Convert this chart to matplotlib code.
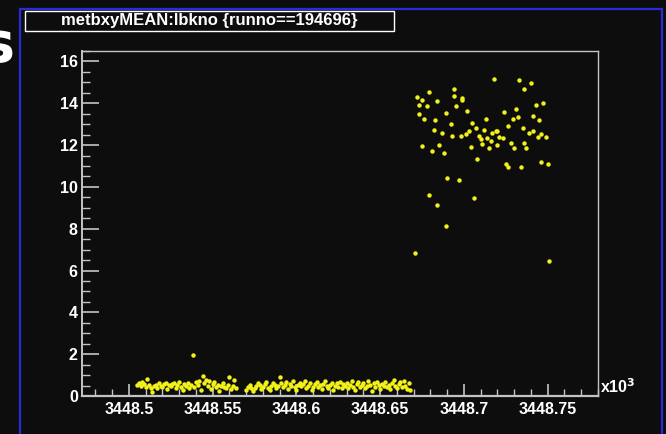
import matplotlib
matplotlib.use("Agg")
import matplotlib.pyplot as plt
from matplotlib.patches import Rectangle
from matplotlib.ticker import MultipleLocator, FuncFormatter

plt.rcParams["font.family"] = ["Liberation Sans", "DejaVu Sans"]
plt.rcParams["font.weight"] = "bold"

RUN = 194696
LB_BASE = 3448000

# low plateau, lumiblocks 505-564 and 570-668
lb_low = [
    505, 506, 507, 508, 509, 510, 511, 512, 513, 514, 515, 516, 517, 518, 519,
    520, 521, 522, 523, 524, 525, 526, 527, 528, 529, 530, 531, 532, 533, 534,
    535, 536, 537, 538, 539, 540, 541, 542, 543, 544, 545, 546, 547, 548, 549,
    550, 551, 552, 553, 554, 555, 556, 557, 558, 559, 560, 561, 562, 563, 564,
    570, 571, 572, 573, 574, 575, 576, 577, 578, 579, 580, 581, 582, 583, 584,
    585, 586, 587, 588, 589, 590, 591, 592, 593, 594, 595, 596, 597, 598, 599,
    600, 601, 602, 603, 604, 605, 606, 607, 608, 609, 610, 611, 612, 613, 614,
    615, 616, 617, 618, 619, 620, 621, 622, 623, 624, 625, 626, 627, 628, 629,
    630, 631, 632, 633, 634, 635, 636, 637, 638, 639, 640, 641, 642, 643, 644,
    645, 646, 647, 648, 649, 650, 651, 652, 653, 654, 655, 656, 657, 658, 659,
    660, 661, 662, 663, 664, 665, 666, 667, 668,
]
met_low = [
    0.55, 0.62, 0.48, 0.66, 0.58, 0.45, 0.80, 0.52, 0.40, 0.20,
    0.47, 0.55, 0.38, 0.60, 0.50, 0.42, 0.57, 0.64, 0.35, 0.51,
    0.46, 0.58, 0.62, 0.40, 0.53, 0.67, 0.44, 0.30, 0.56, 0.49,
    0.61, 0.37, 0.55, 1.97, 0.43, 0.66, 0.52, 0.72, 0.28, 0.95,
    0.62, 0.78, 0.48, 0.70, 0.35, 0.58, 0.65, 0.42, 0.55, 0.25,
    0.50, 0.60, 0.44, 0.38, 0.55, 0.89, 0.32, 0.48, 0.76, 0.36,
    0.30, 0.42, 0.55, 0.38, 0.25, 0.36, 0.48, 0.60, 0.52, 0.33,
    0.45, 0.58, 0.68, 0.40, 0.28, 0.50, 0.62, 0.55, 0.36, 0.47,
    0.90, 0.60, 0.42, 0.53, 0.65, 0.34, 0.57, 0.48, 0.70, 0.44,
    0.31, 0.54, 0.63, 0.46, 0.58, 0.72, 0.39, 0.50, 0.61, 0.27,
    0.45, 0.56, 0.67, 0.41, 0.52, 0.33, 0.59, 0.70, 0.47, 0.38,
    0.55, 0.64, 0.29, 0.50, 0.61, 0.43, 0.68, 0.36, 0.57, 0.49,
    0.62, 0.40, 0.53, 0.74, 0.45, 0.30, 0.58, 0.66, 0.42, 0.51,
    0.63, 0.37, 0.48, 0.71, 0.55, 0.26, 0.60, 0.44, 0.67, 0.52,
    0.35, 0.58, 0.46, 0.69, 0.41, 0.54, 0.32, 0.62, 0.75, 0.48,
    0.39, 0.57, 0.65, 0.43, 0.70, 0.50, 0.34, 0.61, 0.28,
]

# high plateau after the jump
lb_high = [
    672, 675, 679, 694, 694, 699, 699, 718, 733, 740, 736, 747, 743, 673, 678,
    684, 695, 673, 689, 702, 724, 731, 676, 683, 692, 705, 713, 729, 732, 741,
    745, 682, 687, 707, 712, 726, 735, 739, 741, 746, 744, 749, 693, 698, 701,
    703, 709, 710, 714, 717, 719, 720, 721, 723, 716, 711, 720, 728, 736, 675,
    685, 704, 715, 730, 737, 681, 688, 708, 725, 726, 734, 746, 750, 690, 697,
    679, 684, 706, 689, 671, 751,
]
met_high = [
    14.29, 14.17, 14.52, 14.69, 14.34, 14.25, 14.18, 15.14, 15.09, 14.96,
    14.69, 14.02, 13.91, 13.90, 13.85, 14.12, 13.85, 13.51, 13.55, 13.64,
    13.58, 13.72, 13.24, 13.20, 12.99, 13.07, 13.23, 13.24, 13.32, 13.37,
    13.20, 12.74, 12.59, 12.83, 12.74, 12.89, 12.80, 12.59, 12.67, 12.54,
    12.40, 12.37, 12.45, 12.45, 12.54, 12.67, 12.45, 12.30, 12.35, 12.58,
    12.67, 12.67, 12.38, 12.35, 12.18, 12.06, 12.00, 12.10, 12.10, 11.95,
    12.02, 11.92, 11.84, 11.84, 11.84, 11.72, 11.60, 11.32, 11.11, 10.94,
    10.95, 11.17, 11.08, 10.43, 10.33, 9.61, 9.14, 9.47, 8.13, 6.82,
    6.45,
]

BG = "#0d0d0d"
AXC = "#c4c4c4"
YEL = "#f2f21a"

fig = plt.figure(figsize=(6.66, 4.34), dpi=100, facecolor=BG)

# slide frame and stray slide text
fig.patches.append(Rectangle((20 / 666, -0.01), 642 / 666, 1 - 9 / 434 + 0.01,
                             transform=fig.transFigure, fill=False,
                             edgecolor="#2a2ad8", lw=1.6))
fig.text(14 / 666, 1 - 61 / 434, "s", color="white", fontsize=40,
         ha="right", va="baseline", family=["DejaVu Sans"])

# title pave
fig.patches.append(Rectangle((25 / 666, 1 - 31 / 434), 369 / 666, 20 / 434,
                             transform=fig.transFigure, facecolor=BG,
                             edgecolor="white", lw=1.0))
fig.text(209 / 666, 1 - 21 / 434, f"metbxyMEAN:lbkno {{runno=={RUN}}}",
         color="white", fontsize=12, ha="center", va="center")

ax = fig.add_axes([82 / 666, 38 / 434, 516 / 666, 345 / 434], facecolor=BG)

xl = [(LB_BASE + v) / 1000 for v in lb_low]
xh = [(LB_BASE + v) / 1000 for v in lb_high]
ax.plot(xl, met_low, ls="none", marker="o", ms=3.2, mew=0, color=YEL)
ax.plot(xh, met_high, ls="none", marker="o", ms=3.2, mew=0, color=YEL)

ax.set_xlim(3448.472, 3448.780)
ax.set_ylim(0, 16.5)

ax.xaxis.set_major_locator(MultipleLocator(0.05))
ax.xaxis.set_minor_locator(MultipleLocator(0.01))
ax.yaxis.set_major_locator(MultipleLocator(2))
ax.yaxis.set_minor_locator(MultipleLocator(0.5))
ax.xaxis.set_major_formatter(FuncFormatter(lambda v, p: f"{v:.2f}".rstrip("0")))
ax.yaxis.set_major_formatter(FuncFormatter(lambda v, p: f"{v:g}"))

for s in ax.spines.values():
    s.set_color(AXC)
    s.set_linewidth(1.0)
ax.spines["bottom"].set_linewidth(1.6)
ax.spines["left"].set_linewidth(1.4)

ax.tick_params(which="both", direction="in", color=AXC, top=False, right=False)
ax.tick_params(axis="y", which="major", length=12, width=1.2, pad=3)
ax.tick_params(axis="y", which="minor", length=6, width=1.0)
ax.tick_params(axis="x", which="major", length=9, width=1.2, pad=4)
ax.tick_params(axis="x", which="minor", length=5, width=1.0)
ax.tick_params(which="major", labelcolor="white", labelsize=11.5)
for lab in ax.get_xticklabels() + ax.get_yticklabels():
    lab.set_fontweight("bold")

ax.text(1.004, 0.0, r"x10$^{\mathbf{3}}$", transform=ax.transAxes, color="white",
        fontsize=11.5, fontweight="bold", ha="left", va="bottom")

fig.savefig("out.png", dpi=100, facecolor=BG)
